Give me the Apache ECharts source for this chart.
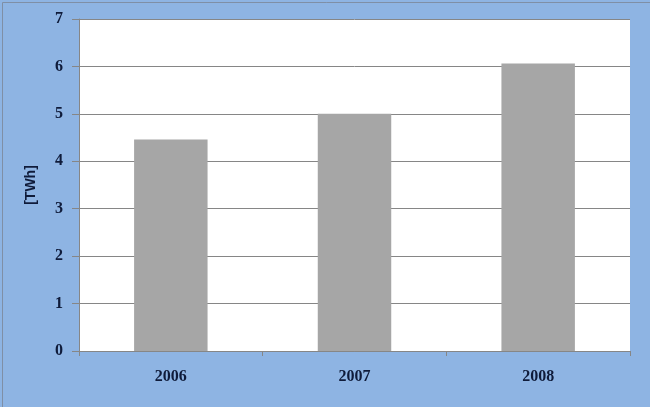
<!DOCTYPE html>
<html>
<head>
<meta charset="utf-8">
<script src="https://cdn.jsdelivr.net/npm/echarts@6/dist/echarts.min.js"></script>
<style>html,body{margin:0;padding:0;background:#8EB4E3;}#c{width:650px;height:407px;}</style>
</head>
<body>
<div id="c"></div>
<script>
var categories = ['2006', '2007', '2008'];
var values = [4.46, 5.0, 6.06];
var yTicks = [0, 1, 2, 3, 4, 5, 6, 7];
var yAxisName = '[TWh]';

var chart = echarts.init(document.getElementById('c'), null, {renderer: 'canvas'});
var textColor = '#0F1B3A';
var lineColor = '#868686';
chart.setOption({
  backgroundColor: '#8EB4E3',
  animation: false,
  graphic: [{
    type: 'rect', left: 0, top: 0, silent: true, z: 100,
    shape: {x: 0.5, y: 0.5, width: 649, height: 406},
    style: {fill: 'none', stroke: '#7F8FA6', lineWidth: 1}
  }],
  grid: {left: 79, top: 19, right: 20, bottom: 56, show: true, backgroundColor: '#FFFFFF', borderWidth: 0},
  xAxis: {
    type: 'category',
    data: categories,
    boundaryGap: true,
    axisLine: {show: true, lineStyle: {color: lineColor, width: 1}},
    axisTick: {show: true, length: 5, lineStyle: {color: lineColor}},
    axisLabel: {color: textColor, fontFamily: 'Liberation Serif', fontWeight: 'bold', fontSize: 16, margin: 18}
  },
  yAxis: {
    type: 'value',
    min: yTicks[0],
    max: yTicks[yTicks.length - 1],
    interval: 1,
    name: yAxisName,
    nameLocation: 'middle',
    nameGap: 41,
    nameRotate: 90,
    nameTextStyle: {color: textColor, fontFamily: 'Liberation Sans', fontWeight: 'bold', fontSize: 14},
    axisLine: {show: true, lineStyle: {color: lineColor, width: 1}},
    axisTick: {show: true, length: 7, lineStyle: {color: lineColor}},
    splitLine: {show: true, lineStyle: {color: lineColor, width: 1}},
    axisLabel: {color: textColor, fontFamily: 'Liberation Serif', fontWeight: 'bold', fontSize: 16, margin: 16}
  },
  series: [{
    type: 'bar',
    data: values,
    barWidth: '40%',
    itemStyle: {color: '#A6A6A6'}
  }]
});
</script>
</body>
</html>
